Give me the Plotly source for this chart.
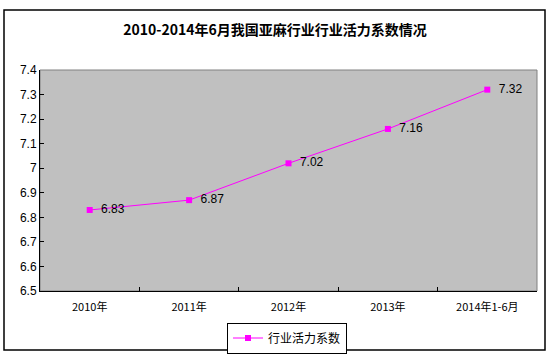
import plotly.graph_objects as go

categories = ["2010年", "2011年", "2012年", "2013年", "2014年1-6月"]
values = [6.83, 6.87, 7.02, 7.16, 7.32]
value_labels = ["  6.83", "  6.87", "  7.02", "  7.16", "  7.32"]
series_name = "行业活力系数"
title_text = "2010-2014年6月我国亚麻行业行业活力系数情况"

fig = go.Figure()
fig.add_trace(go.Scatter(
    x=categories, y=values, mode="lines+markers+text", name=series_name,
    line=dict(color="#FF00FF", width=1),
    marker=dict(symbol="square", size=6, color="#FF00FF"),
    text=value_labels, textposition="middle right",
    textfont=dict(family="Liberation Sans, Arial", size=12, color="black"),
    cliponaxis=False,
))

L, R, T, B = 40, 13, 70, 63
W, H = 550, 354
pw, ph = W - L - R, H - T - B

def px(x):
    return (x - L) / pw

def py(y):
    return (H - B - y) / ph

fig.update_layout(
    width=W, height=H,
    margin=dict(l=L, r=R, t=T, b=B, pad=0, autoexpand=False),
    paper_bgcolor="white", plot_bgcolor="#C0C0C0",
    title=dict(text="<b>" + title_text + "</b>", x=0.5, xanchor="center",
               y=1 - 30 / H, yanchor="middle",
               font=dict(family="Noto Sans CJK SC", size=14, color="black")),
    showlegend=True,
    legend=dict(orientation="h", xref="container", yref="container",
                x=287 / W, xanchor="center", y=1 - 338 / H, yanchor="middle",
                bordercolor="black", borderwidth=1, bgcolor="white",
                font=dict(family="Noto Sans CJK SC", size=12, color="black"),
                itemwidth=30),
    font=dict(family="Liberation Sans, Arial", size=12, color="black"),
    shapes=[
        dict(type="rect", xref="paper", yref="paper", x0=0, x1=1, y0=0, y1=1,
             line=dict(color="#808080", width=1), layer="below"),
        dict(type="rect", xref="paper", yref="paper",
             x0=px(4), x1=px(545), y0=py(350), y1=py(10),
             line=dict(color="black", width=1.5)),
    ],
)
fig.update_xaxes(
    type="category", range=[-0.5, 4.5], showgrid=False, showline=True, linecolor="black", linewidth=1,
    ticks="inside", ticklen=4, tickcolor="black", tickson="boundaries",
    tickfont=dict(family="Noto Sans CJK SC", size=11),
    ticklabelstandoff=6, automargin=False,
)
fig.update_yaxes(
    range=[6.5, 7.4], showgrid=False, showline=True, linecolor="black", linewidth=1,
    ticks="inside", ticklen=4, tickcolor="black",
    tickvals=[6.5, 6.6, 6.7, 6.8, 6.9, 7.0, 7.1, 7.2, 7.3, 7.4],
    ticktext=["6.5", "6.6", "6.7", "6.8", "6.9", "7", "7.1", "7.2", "7.3", "7.4"],
    tickfont=dict(family="Liberation Sans, Arial", size=12),
    zeroline=False, automargin=False,
)
fig.write_html("out.html")
